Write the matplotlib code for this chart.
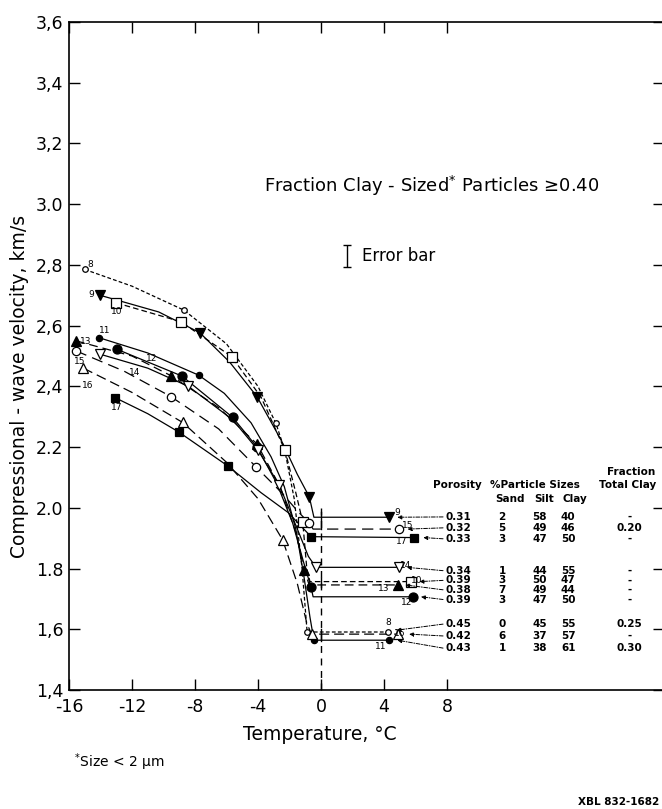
import matplotlib
matplotlib.use("Agg")
import matplotlib.pyplot as plt

# ── data (temperature degC, velocity km/s) ───────────────────────────────────
t8 = [-15.0, -12.0, -8.7, -6.0, -4.0, -2.86, -2.3, -1.7, -1.2, -0.88, 4.27]
v8 = [2.785, 2.73, 2.651, 2.54, 2.40, 2.278, 2.19, 2.03, 1.80, 1.591, 1.591]
m8_t = [-15.0, -8.7, -2.86, -0.88, 4.27]
m8_v = [2.785, 2.651, 2.278, 1.591, 1.591]

t9 = [-14.03, -10.3, -7.7, -5.8, -4.06, -2.5, -1.5, -0.74, -0.45, 4.34]
v9 = [2.70, 2.645, 2.577, 2.48, 2.366, 2.22, 2.11, 2.036, 1.969, 1.969]
m9_t = [-14.03, -7.7, -4.06, -0.74, 4.34]
m9_v = [2.70, 2.577, 2.366, 2.036, 1.969]

t10 = [-13.0, -8.9, -5.67, -3.8, -2.29, -1.6, -1.16, -0.9, -0.7, 5.71]
v10 = [2.675, 2.613, 2.498, 2.364, 2.19, 2.05, 1.954, 1.80, 1.757, 1.757]
m10_t = [-13.0, -8.9, -5.67, -2.29, -1.16, 5.71]
m10_v = [2.675, 2.613, 2.498, 2.19, 1.954, 1.757]

t11 = [-14.08, -11.0, -7.77, -6.14, -4.44, -3.17, -2.33, -1.6, -1.1, -0.7, -0.45, 4.35]
v11 = [2.56, 2.51, 2.437, 2.377, 2.28, 2.168, 2.07, 1.93, 1.78, 1.64, 1.564, 1.564]
m11_t = [-14.08, -7.77, -0.45, 4.35]
m11_v = [2.56, 2.437, 1.564, 1.564]

t12 = [-12.95, -8.83, -5.61, -4.06, -2.8, -1.8, -1.1, -0.63, -0.5, 5.82]
v12 = [2.522, 2.434, 2.298, 2.20, 2.08, 1.95, 1.82, 1.738, 1.707, 1.707]
m12_t = [-12.95, -8.83, -5.61, -4.06, -0.63, 5.82]
m12_v = [2.522, 2.434, 2.298, 2.20, 1.738, 1.707]

t13 = [-15.56, -12.0, -9.52, -6.5, -4.06, -2.6, -1.6, -1.06, -0.75, 4.87]
v13 = [2.55, 2.50, 2.435, 2.33, 2.21, 2.07, 1.92, 1.795, 1.746, 1.746]
m13_t = [-15.56, -9.52, -4.06, -1.06, 4.87]
m13_v = [2.55, 2.435, 2.21, 1.795, 1.746]

t14 = [-14.03, -11.0, -8.42, -5.6, -4.0, -2.65, -1.5, -0.8, -0.32, 4.97]
v14 = [2.506, 2.46, 2.40, 2.29, 2.19, 2.075, 1.93, 1.84, 1.804, 1.804]
m14_t = [-14.03, -8.42, -4.0, -2.65, -0.32, 4.97]
m14_v = [2.506, 2.40, 2.19, 2.075, 1.804, 1.804]

t15 = [-15.56, -12.5, -9.52, -6.5, -4.13, -2.5, -1.5, -0.74, -0.5, 4.97]
v15 = [2.517, 2.45, 2.366, 2.26, 2.135, 2.05, 1.99, 1.949, 1.930, 1.930]
m15_t = [-15.56, -9.52, -4.13, -0.74, 4.97]
m15_v = [2.517, 2.366, 2.135, 1.949, 1.930]

t16 = [-15.09, -12.0, -8.78, -6.0, -4.0, -2.43, -1.5, -0.9, -0.6, 4.9]
v16 = [2.46, 2.38, 2.281, 2.15, 2.03, 1.894, 1.75, 1.62, 1.584, 1.584]
m16_t = [-15.09, -8.78, -2.43, -0.6, 4.9]
m16_v = [2.46, 2.281, 1.894, 1.584, 1.584]

t17 = [-13.08, -11.0, -9.04, -5.92, -3.81, -2.1, -0.63, 5.93]
v17 = [2.363, 2.31, 2.25, 2.138, 2.05, 1.985, 1.905, 1.902]
m17_t = [-13.08, -9.04, -5.92, -0.63, 5.93]
m17_v = [2.363, 2.25, 2.138, 1.905, 1.902]

# table on the right
porosity = ["0.31", "0.32", "0.33", "0.34", "0.39", "0.38", "0.39", "0.45", "0.42", "0.43"]
sand = ["2", "5", "3", "1", "3", "7", "3", "0", "6", "1"]
silt = ["58", "49", "47", "44", "50", "49", "47", "45", "37", "38"]
clay = ["40", "46", "50", "55", "47", "44", "50", "55", "57", "61"]
frac_clay = ["-", "0.20", "-", "-", "-", "-", "-", "0.25", "-", "0.30"]
row_sample = ["9", "15", "17", "14", "10", "13", "12", "8", "16", "11"]

x_ticks = [-16, -12, -8, -4, 0, 4, 8]
y_ticks = [1.4, 1.6, 1.8, 2.0, 2.2, 2.4, 2.6, 2.8, 3.0, 3.2, 3.4, 3.6]
y_ticklabels = ["1,4", "1,6", "1.8", "2.0", "2.2", "2,4", "2,6", "2,8", "3.0", "3,2", "3,4", "3,6"]

# ── styles ───────────────────────────────────────────────────────────────────
K = "black"
samples = {
    "8":  (t8, v8, m8_t, m8_v, (0, (3, 1.8)), dict(marker="o", ms=4, mfc="white")),
    "9":  (t9, v9, m9_t, m9_v, "-", dict(marker="v", ms=7, mfc=K)),
    "10": (t10, v10, m10_t, m10_v, (0, (4.5, 2.5)), dict(marker="s", ms=6.5, mfc="white")),
    "11": (t11, v11, m11_t, m11_v, "-", dict(marker="o", ms=4.5, mfc=K)),
    "12": (t12, v12, m12_t, m12_v, "-", dict(marker="o", ms=6.5, mfc=K)),
    "13": (t13, v13, m13_t, m13_v, (0, (7, 4)), dict(marker="^", ms=7, mfc=K)),
    "14": (t14, v14, m14_t, m14_v, "-", dict(marker="v", ms=7.5, mfc="white")),
    "15": (t15, v15, m15_t, m15_v, (0, (9, 5)), dict(marker="o", ms=6, mfc="white")),
    "16": (t16, v16, m16_t, m16_v, (0, (8, 4)), dict(marker="^", ms=7.5, mfc="white")),
    "17": (t17, v17, m17_t, m17_v, "-", dict(marker="s", ms=6, mfc=K)),
}

plt.rcParams["font.family"] = ["DejaVu Sans"]
plt.rcParams["mathtext.default"] = "regular"

fig = plt.figure(figsize=(6.62, 8.09), dpi=100)
W, H = 662, 809
ax = fig.add_axes([69 / W, 119 / H, 595 / W, 668 / H])
ax.set_xlim(-16, 21.78)
ax.set_ylim(1.4, 3.6)

for name, (tc, vc, mt, mv, ls, mk) in samples.items():
    ax.plot(tc, vc, color=K, lw=0.9, linestyle=ls, zorder=2)
    ax.plot(mt, mv, linestyle="none", color=K, mec=K, mew=0.9, zorder=3, **mk)

# vertical line at 0 degC
ax.plot([0, 0], [2.0, 1.4], color=K, lw=1.0, linestyle=(0, (5, 4)))
for lo, hi in [(1.93, 1.985), (1.74, 1.77), (1.56, 1.60)]:
    ax.plot([0, 0], [lo, hi], color=K, lw=1.0)

# sample labels next to the curves
left_labels = [("8", -14.62, 2.80), ("9", -14.6, 2.704), ("10", -12.97, 2.646),
               ("11", -13.71, 2.583), ("12", -10.75, 2.492), ("13", -14.92, 2.547),
               ("15", -15.3, 2.481), ("14", -11.81, 2.445), ("16", -14.84, 2.404),
               ("17", -13.0, 2.332)]
right_labels = [("9", 4.83, 1.986), ("15", 5.52, 1.943), ("17", 5.12, 1.888),
                ("14", 5.40, 1.811), ("10", 6.08, 1.76), ("13", 3.96, 1.735),
                ("12", 5.44, 1.687), ("8", 4.29, 1.621), ("16", 5.0, 1.587),
                ("11", 3.81, 1.542)]
for s, x, y in left_labels + right_labels:
    ax.text(x, y, s, fontsize=6.5, ha="center", va="center")

# table (columns in degC along the x axis, rows in km/s)
x_por, x_sand, x_silt, x_clay, x_frac = 7.9, 11.5, 13.9, 15.7, 19.6
row_v = [1.970, 1.934, 1.898, 1.793, 1.761, 1.730, 1.698, 1.617, 1.578, 1.538]
arrow_to = {"9": (4.85, 1.969), "15": (5.5, 1.930), "17": (6.5, 1.902),
            "14": (5.45, 1.804), "10": (6.25, 1.757), "13": (5.35, 1.746),
            "12": (6.35, 1.707), "8": (4.8, 1.597), "16": (5.6, 1.584),
            "11": (4.85, 1.564)}
tab_kw = dict(fontsize=7.5, va="center", fontweight="bold")
for i, y in enumerate(row_v):
    ax.text(x_por, y, porosity[i], ha="left", **tab_kw)
    ax.text(x_sand, y, sand[i], ha="center", **tab_kw)
    ax.text(x_silt, y, silt[i], ha="center", **tab_kw)
    ax.text(x_clay, y, clay[i], ha="center", **tab_kw)
    ax.text(x_frac, y, frac_clay[i], ha="center", **tab_kw)
    ax.annotate("", xy=arrow_to[row_sample[i]], xytext=(x_por - 0.15, y),
                arrowprops=dict(arrowstyle="-|>", color=K, lw=0.7,
                                linestyle=(0, (4, 1.5, 1, 1.5)),
                                mutation_scale=6, shrinkA=0, shrinkB=0))
ax.text(19.7, 2.118, "Fraction", ha="center", **tab_kw)
ax.text(7.1, 2.075, "Porosity", ha="left", **tab_kw)
ax.text(10.75, 2.075, "%Particle Sizes", ha="left", **tab_kw)
ax.text(21.3, 2.075, "Total Clay", ha="right", **tab_kw)
ax.text(12.0, 2.029, "Sand", ha="center", **tab_kw)
ax.text(14.2, 2.029, "Silt", ha="center", **tab_kw)
ax.text(16.1, 2.029, "Clay", ha="center", **tab_kw)

# annotations in the plot
ax.text(-3.6, 3.06, "Fraction Clay - Sized$^{*}$ Particles ≥0.40",
        fontsize=13, ha="left", va="center")
ax.errorbar([1.65], [2.83], yerr=[0.037], color=K, lw=1.0, capsize=3, capthick=1.0)
ax.text(2.6, 2.83, "Error bar", fontsize=12, ha="left", va="center")

# axes cosmetics
ax.set_xticks(x_ticks)
ax.set_xticklabels([str(t) for t in x_ticks])
ax.set_yticks(y_ticks)
ax.set_yticklabels(y_ticklabels)
ax.tick_params(direction="in", length=8, width=1, labelsize=12.5,
               top=True, right=True)
ax.tick_params(axis="x", pad=6)
ax.tick_params(axis="y", pad=4)
for sp in ax.spines.values():
    sp.set_linewidth(1.2)

fig.text(320 / W, 1 - 735 / H, "Temperature, °C", fontsize=13.5, ha="center", va="center")
fig.text(20 / W, 1 - 386 / H, "Compressional - wave velocity, km/s", fontsize=13.5,
         rotation=90, ha="center", va="center")
fig.text(74 / W, 1 - 762 / H, r"$^{*}$Size < 2 $\mu$m", fontsize=10, ha="left", va="center")
fig.text(659 / W, 1 - 802 / H, "XBL 832-1682", fontsize=7.5, fontweight="bold",
         ha="right", va="center")

fig.savefig("out.png", dpi=100)
